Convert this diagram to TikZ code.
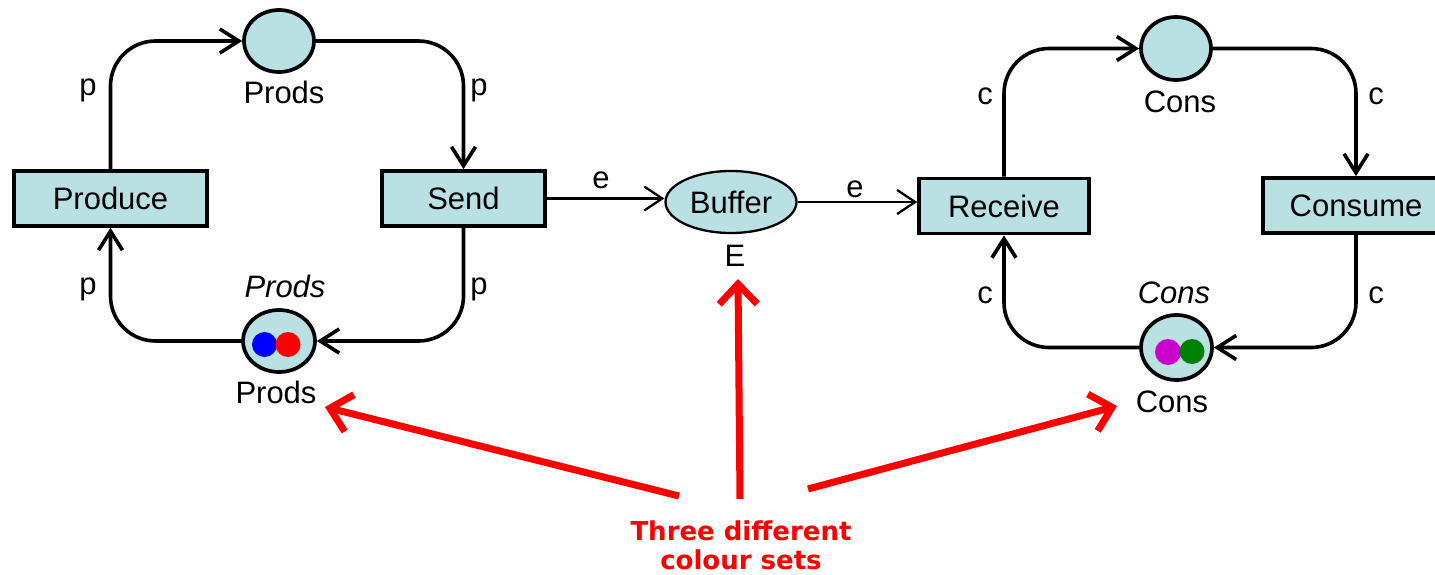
\documentclass[tikz,border=0pt]{standalone}
\usepackage{fontspec}
\setmainfont{Liberation Sans}
\newfontfamily\notefont{DejaVu Sans}
\usetikzlibrary{arrows.meta,shapes.geometric}
\definecolor{placefill}{RGB}{185,224,226}
\definecolor{notered}{RGB}{255,0,0}
\definecolor{tokblue}{RGB}{0,0,255}
\definecolor{tokred}{RGB}{255,0,0}
\definecolor{tokmag}{RGB}{204,0,204}
\definecolor{tokgreen}{RGB}{0,128,0}

\begin{document}
\begin{tikzpicture}[x=1pt,y=-1pt,
  every node/.style={font=\fontsize{31}{36}\selectfont},
  trans/.style={draw, line width=3.7pt, fill=placefill, rectangle,
    minimum height=55pt, inner sep=0pt, text height=22pt, text depth=0pt},
  place/.style={draw, line width=3.7pt, fill=placefill, ellipse, inner sep=0pt},
  token/.style={circle, inner sep=0pt, minimum size=25pt},
  lbl/.style={anchor=base, inner sep=0pt},
  flow/.style={line width=3.6pt, rounded corners=45pt,
    -{Straight Barb[length=19pt,width=24pt]}},
  thinflow/.style={line width=2.3pt, -{Straight Barb[length=18pt,width=24pt]}},
  pointer/.style={draw=notered, line width=7pt,
    -{Straight Barb[length=20pt,width=38pt]}}]

\useasboundingbox (0,0) rectangle (1435,575);
\clip (0,0) rectangle (1435,575);

% ---------- producer side ----------
\node[trans, minimum width=193pt] (produce) at (110.5,198.5) {Produce};
\node[trans, minimum width=163pt] (send) at (463.5,198.5) {Send};
\node[place, minimum width=70pt, minimum height=62pt] (prodsT) at (279,41) {};
\node[place, minimum width=72pt, minimum height=62pt] (prodsB) at (279,341) {};
\node[token, fill=tokblue] (tokB) at (264.5,344.5) {};
\node[token, fill=tokred] (tokR) at (288,344.5) {};

\node[lbl] (prodsTlbl) at (284,104) {Prods};
\node[lbl] (prodsBtype) at (285,297) {\itshape Prods};
\node[lbl] (prodsBlbl) at (276,403) {Prods};

\draw[flow] (produce.north) |- (prodsT.west);
\draw[flow] (prodsT.east) -| (send.north);
\draw[flow] (send.south) |- (prodsB.east);
\draw[flow] (prodsB.west) -| (produce.south);

\node[lbl] (p1) at (88,96) {p};
\node[lbl] (p2) at (479,96) {p};
\node[lbl] (p3) at (88,294) {p};
\node[lbl] (p4) at (479,294) {p};

% ---------- buffer ----------
\node[draw, line width=2.3pt, fill=placefill, ellipse, inner sep=0pt,
  minimum width=131pt, minimum height=62pt, text height=22pt, text depth=0pt]
  (buffer) at (731,202) {Buffer};
\node[lbl] (bufE) at (735,266) {E};

% ---------- consumer side ----------
\node[trans, minimum width=170pt] (receive) at (1004,206) {Receive};
\node[trans, minimum width=186pt] (consume) at (1356,205.5) {Consume};
\node[place, minimum width=70pt, minimum height=63pt] (consT) at (1176,48.5) {};
\node[place, minimum width=71pt, minimum height=65pt] (consB) at (1176.5,347.5) {};
\node[token, fill=tokmag, minimum size=26pt] (tokM) at (1168,352) {};
\node[token, fill=tokgreen] (tokG) at (1192,351.5) {};

\node[lbl] (consTlbl) at (1180,113) {Cons};
\node[lbl] (consBtype) at (1174,303) {\itshape Cons};
\node[lbl] (consBlbl) at (1172,412) {Cons};

\draw[flow] (receive.north) |- (consT.west);
\draw[flow] (consT.east) -| (consume.north);
\draw[flow] (consume.south) |- (consB.east);
\draw[flow] (consB.west) -| (receive.south);

\node[lbl] (c1) at (985,105) {c};
\node[lbl] (c2) at (1376,105) {c};
\node[lbl] (c3) at (985,303) {c};
\node[lbl] (c4) at (1376,303) {c};

% ---------- buffer arcs ----------
\draw[thinflow] (send.east) -- (send.east -| buffer.west);
\draw[thinflow] (buffer.east) -- (buffer.east -| receive.west);
\node[lbl] (e1) at (601,188) {e};
\node[lbl] (e2) at (855,197) {e};

% ---------- note ----------
\node[align=center, text=notered, inner sep=0pt,
  font=\notefont\bfseries\fontsize{26}{29}\selectfont]
  (note) at (741,545) {Three different\\colour sets};
\coordinate (noteL) at (679,496);
\coordinate (noteM) at (740,499);
\coordinate (noteR) at (808,489);
\coordinate (tipL) at (325,407);
\coordinate (tipM) at (738,279);
\coordinate (tipR) at (1117,406);
\draw[pointer] (noteL) -- (tipL);
\draw[pointer] (noteM) -- (tipM);
\draw[pointer] (noteR) -- (tipR);
\end{tikzpicture}
\end{document}
